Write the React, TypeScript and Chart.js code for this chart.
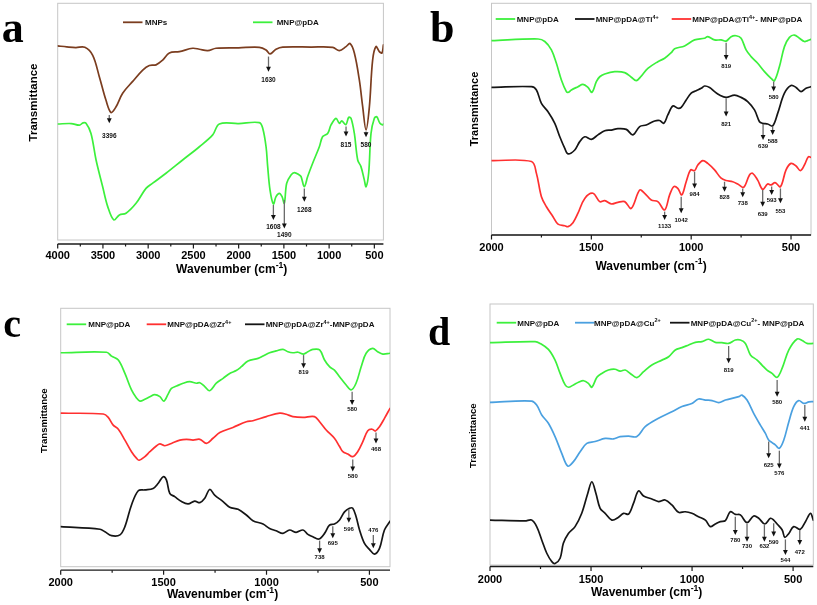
import React, { useEffect, useRef } from 'react';
import { Chart, registerables } from 'chart.js';

Chart.register(...registerables);

// ---------------- DATA ----------------
// [wavenumber (cm-1), transmittance (arbitrary units, 0-100)]
const A_MNPS: number[][] = [
  [4000, 82], [3900, 81.6], [3800, 81.3], [3700, 81.4], [3613, 78], [3540, 69], [3466, 59], [3411, 53.9],
  [3355, 56.3], [3282, 62], [3171, 67], [3060, 71.8], [2987, 73.7], [2913, 74], [2840, 76], [2766, 79],
  [2655, 79.6], [2508, 81], [2434, 80.6], [2342, 80], [2250, 81], [2000, 81.2], [1771, 81.4], [1697, 80.3],
  [1653, 78.6], [1587, 80.6], [1513, 81.5], [1200, 81.5], [960, 81.4], [887, 80], [813, 81.7], [769, 83],
  [721, 79], [666, 67.6], [629, 56.3], [592, 46.5], [555, 56.3], [519, 76], [482, 81.7], [445, 79.6],
  [416, 79], [400, 82.4],
];
const A_PDA: number[][] = [
  [4000, 49], [3850, 49.2], [3760, 48.5], [3720, 49.5], [3687, 49.3], [3632, 45], [3576, 33.8], [3503, 22.5],
  [3447, 14.1], [3380, 8.5], [3318, 10.6], [3245, 11.3], [3134, 15.5], [3024, 21.8], [2950, 24], [2803, 28.2],
  [2619, 33.8], [2434, 39.4], [2287, 44.4], [2213, 49], [2000, 49.2], [1771, 49.6], [1734, 47.2], [1697, 39.4],
  [1679, 31], [1653, 21.1], [1616, 15.2], [1587, 18.3], [1550, 19.7], [1520, 18.3], [1495, 15.5], [1469, 24],
  [1421, 27.5], [1384, 28.5], [1329, 27.5], [1310, 26.8], [1274, 22.5], [1237, 26.8], [1182, 32.4],
  [1108, 39.4], [1071, 43.7], [1016, 45], [979, 48.6], [924, 51.4], [887, 49.3], [860, 50.3], [815, 48.7],
  [784, 51.8], [758, 51.4], [721, 45], [684, 33.8], [648, 31], [611, 25.4], [592, 22.5], [563, 28.2],
  [537, 45], [500, 51.4], [474, 52.1], [438, 49.3], [408, 48.6], [400, 49],
];

const B_PDA: number[][] = [
  [2000, 83.9], [1767, 84.6], [1733, 83.5], [1700, 79.9], [1675, 74.1], [1650, 66.9], [1625, 61.9], [1615, 61.6],
  [1600, 62.6], [1567, 64], [1542, 65], [1517, 63.7], [1497, 61.6], [1475, 66.2], [1458, 68.3], [1433, 69.5],
  [1383, 70.5], [1333, 70.1], [1300, 68.1], [1275, 66.6], [1250, 68.6], [1217, 71.9], [1167, 74.8], [1133, 76.3],
  [1100, 78.7], [1083, 80.4], [1033, 81.6], [983, 84.2], [933, 84.9], [917, 85.6], [883, 84.2], [850, 84.2],
  [825, 83.7], [800, 85.6], [775, 86], [750, 84.9], [725, 79.9], [700, 77], [667, 74.1], [633, 70.5],
  [600, 67.6], [583, 66.6], [558, 72.7], [533, 81.3], [508, 85.3], [483, 86.3], [458, 84.9], [433, 83.5],
  [417, 83.9], [400, 84.5],
];
const B_TI: number[][] = [
  [2000, 63.7], [1800, 64], [1775, 62.6], [1750, 56.8], [1717, 53.2], [1683, 48.2], [1658, 42.4], [1633, 37.4],
  [1617, 35], [1583, 36.7], [1558, 40.3], [1533, 42.4], [1500, 41.3], [1467, 43.2], [1433, 45], [1400, 45.3],
  [1367, 45.9], [1325, 45.6], [1292, 43.2], [1258, 46.8], [1225, 47.5], [1183, 49.2], [1158, 49.4], [1137, 48.2],
  [1117, 51.8], [1092, 55.7], [1067, 54.7], [1050, 55.1], [1025, 58.3], [1000, 61.2], [975, 62.3], [950, 63.3],
  [933, 64.3], [908, 63.7], [883, 61.9], [858, 60.4], [825, 59.4], [783, 60.4], [750, 59.4], [717, 57.6],
  [683, 54], [658, 48.9], [642, 48.2], [617, 47.9], [592, 47.1], [567, 52.5], [533, 61.2], [500, 64.5],
  [475, 63.7], [450, 61.9], [425, 63.3], [400, 64],
];
const B_TI_PDA: number[][] = [
  [2000, 32.1], [1800, 31.7], [1775, 26.6], [1750, 16.5], [1725, 12.2], [1692, 7.9], [1667, 4.7], [1633, 4],
  [1617, 3.6], [1592, 5.3], [1567, 9.4], [1533, 15.8], [1492, 18], [1458, 14.4], [1433, 14.8], [1400, 13.4],
  [1367, 14.1], [1333, 14.4], [1300, 11.5], [1258, 19.4], [1233, 18], [1200, 15.1], [1167, 14.4], [1133, 10.8],
  [1108, 17.3], [1087, 20.9], [1067, 20.1], [1047, 17.3], [1025, 23], [1003, 28.1], [983, 27.8], [967, 30.2],
  [942, 32.1], [917, 30.9], [883, 28.1], [850, 24.5], [825, 23.5], [792, 23], [767, 22], [737, 20.6],
  [708, 25.9], [692, 26.6], [667, 23.7], [642, 19.7], [617, 22], [600, 21.6], [580, 22.6], [553, 20.9],
  [525, 28.1], [500, 30.9], [475, 29.8], [453, 27.8], [433, 30.2], [413, 33.8], [400, 33.5],
];

const C_PDA: number[][] = [
  [2000, 82.8], [1777, 83], [1753, 81.5], [1720, 80], [1688, 74.8], [1656, 68.4], [1631, 65.2], [1615, 64.1],
  [1591, 64.8], [1567, 65.8], [1543, 66.6], [1518, 65.8], [1499, 64.1], [1478, 66.8], [1462, 69], [1437, 69.9],
  [1405, 71], [1373, 71.6], [1340, 71], [1324, 71.2], [1300, 69.7], [1276, 68.1], [1244, 71], [1211, 72.9],
  [1179, 74.8], [1147, 75.9], [1122, 77.4], [1090, 79.6], [1041, 80.6], [1017, 81.5], [985, 82.8], [953, 83.5],
  [920, 84.1], [896, 83.2], [872, 82.8], [847, 83], [820, 82.3], [799, 83.2], [775, 84.1], [742, 83.9],
  [718, 80], [694, 77.4], [670, 76.1], [645, 73.5], [613, 70.3], [589, 68.4], [565, 71], [540, 77.4],
  [516, 82.6], [484, 84.5], [460, 83.2], [435, 82.3], [400, 82.6],
];
const C_ZR: number[][] = [
  [2000, 59.4], [1793, 59.1], [1769, 57.8], [1745, 54.8], [1720, 53.2], [1688, 49], [1656, 44.5], [1631, 41.9],
  [1619, 41.2], [1591, 42.6], [1567, 44.5], [1534, 46.8], [1518, 47.5], [1494, 46.8], [1462, 47.7], [1421, 49],
  [1389, 49.3], [1357, 49], [1324, 49.3], [1292, 47.7], [1260, 49.7], [1227, 51.9], [1163, 53.9], [1098, 56.1],
  [1066, 56.5], [1001, 58.1], [936, 59.4], [904, 59], [872, 58.1], [823, 57.8], [767, 58.1], [742, 56.1],
  [710, 52.9], [670, 49.7], [645, 46.5], [629, 44.5], [605, 43.6], [581, 42.6], [557, 44.5], [532, 48.4],
  [508, 52.6], [487, 53.2], [471, 52.5], [451, 54.2], [427, 57.4], [400, 61.3],
];
const C_ZR_PDA: number[][] = [
  [2000, 15.5], [1809, 14.5], [1785, 13.5], [1753, 12], [1712, 12.3], [1688, 15.5], [1656, 23.9], [1623, 29.4],
  [1591, 29.7], [1551, 30.3], [1526, 32.3], [1502, 34.8], [1486, 33.5], [1470, 28.4], [1446, 27.1], [1413, 25.2],
  [1381, 24.3], [1349, 25.4], [1324, 24.8], [1300, 26.5], [1276, 29.9], [1252, 27.7], [1211, 25.2], [1179, 23],
  [1138, 22.2], [1098, 20], [1066, 17.8], [1017, 16.5], [985, 14.8], [953, 13.9], [920, 12.9], [888, 14.2],
  [856, 13.3], [823, 14.2], [799, 12.5], [775, 11.6], [746, 10.7], [718, 12.9], [694, 16.1], [670, 16.5],
  [645, 18.1], [621, 21.2], [597, 22.6], [581, 22.6], [565, 19.4], [548, 14.2], [524, 9], [500, 6.7],
  [476, 4.9], [451, 7.1], [427, 14.2], [400, 17.6],
];

const D_PDA: number[][] = [
  [2000, 85.2], [1777, 85.6], [1752, 84.9], [1711, 82.6], [1678, 78.5], [1653, 73.4], [1628, 69], [1612, 68.1],
  [1587, 69], [1562, 70], [1537, 70.6], [1513, 69.6], [1496, 68.1], [1471, 71.9], [1447, 73.4], [1414, 74.7],
  [1381, 75], [1356, 74.3], [1331, 74.7], [1306, 73.4], [1273, 71.8], [1240, 74.1], [1199, 76.6], [1149, 78.5],
  [1116, 79.8], [1083, 82.4], [1050, 83.3], [1017, 84.3], [984, 85.3], [951, 85.6], [918, 86.5], [885, 85.3],
  [852, 85.2], [819, 84.9], [786, 86.2], [761, 86.2], [736, 84.9], [711, 80.5], [678, 78.5], [654, 76.6],
  [629, 74.7], [604, 73.4], [579, 71.9], [554, 75.4], [521, 82.4], [480, 86.6], [455, 86], [431, 84.9],
  [400, 84.9],
];
const D_CU: number[][] = [
  [2000, 62.3], [1794, 62.8], [1769, 61.3], [1744, 57.5], [1711, 54.3], [1678, 49.2], [1645, 42.8], [1615, 37.9],
  [1587, 39.6], [1554, 43.4], [1521, 46.6], [1480, 47.3], [1430, 48.5], [1389, 48.3], [1356, 49.2], [1314, 49.4],
  [1273, 49.2], [1232, 53], [1166, 56.2], [1100, 58.7], [1050, 60.7], [1001, 61.9], [968, 63.6], [934, 63.2],
  [901, 63], [868, 62.2], [835, 63.2], [769, 64.5], [753, 65.1], [728, 63.2], [695, 58.1], [662, 53.6],
  [637, 50.4], [621, 47.9], [604, 46.9], [588, 46], [568, 44.7], [546, 47.9], [521, 54.9], [497, 60.7],
  [472, 63], [447, 61.9], [422, 62.5], [400, 62.6],
];
const D_CU_PDA: number[][] = [
  [2000, 17.2], [1827, 16.9], [1794, 17.2], [1769, 14.7], [1744, 9.6], [1719, 4.5], [1694, 1.3], [1678, 0.6],
  [1653, 2.6], [1637, 8.3], [1612, 12.1], [1579, 14.7], [1546, 19.8], [1516, 27.5], [1496, 31.9], [1476, 27.5],
  [1455, 21.7], [1430, 19.8], [1397, 17.2], [1364, 18.3], [1339, 19.8], [1314, 19.5], [1290, 23.6], [1265, 28.4],
  [1240, 26.4], [1199, 25.3], [1166, 24.3], [1133, 24.9], [1100, 23], [1067, 20.2], [1034, 20.4], [1001, 19.8],
  [968, 18.5], [934, 17.2], [910, 14.7], [885, 15.7], [860, 16.6], [835, 17], [811, 20.4], [786, 19.4],
  [761, 19.2], [728, 16.2], [695, 18.8], [670, 17.9], [640, 15.7], [612, 17.9], [596, 17.2], [579, 15.7],
  [554, 13.4], [541, 10.6], [521, 12.1], [497, 14.7], [464, 13.7], [439, 16.6], [414, 19.8], [400, 17.2],
];

// peak marks: [arrow wavenumber, arrow start, arrow tip, label level, label]
const A_PEAKS: (number | string)[][] = [
  [3430, 52.8, 49.3, 43.7, '3396'], [1670, 77.5, 71.1, 67.6, '1630'], [1616, 14.8, 8.5, 5.6, '1608'],
  [1495, 16.9, 4.9, 2.1, '1490'], [1274, 21.8, 16.2, 12.4, '1268'], [813, 47.9, 43.7, 40.1, '815'],
  [592, 45.8, 43.4, 39.9, '580'],
];
const B_PEAKS: (number | string)[][] = [
  [825, 83, 75.5, 72.7, '819'], [587, 66.2, 61.9, 59.3, '580'], [825, 59, 51.1, 47.9, '821'],
  [640, 47.9, 41, 38.4, '639'], [592, 46.8, 43.2, 40.3, '588'], [1133, 10.1, 6.5, 3.6, '1133'],
  [1050, 16.5, 9.4, 6.5, '1042'], [983, 27.3, 20.1, 17.6, '984'], [833, 23, 18.7, 16.1, '828'],
  [742, 20.1, 16.3, 13.7, '738'], [642, 19.4, 12.2, 8.9, '639'], [597, 20.9, 17.3, 15.1, '593'],
  [553, 20.1, 13.7, 10.4, '553'],
];
const C_PEAKS: (number | string)[][] = [
  [820, 81.9, 76.8, 75.1, '819'], [584, 67.7, 62.6, 61, '580'], [468, 51.9, 47.7, 45.4, '468'],
  [581, 41.5, 36.8, 35.1, '580'], [742, 10.1, 5.2, 3.6, '738'], [678, 15.7, 11, 9, '695'],
  [600, 22.2, 17, 14.5, '596'], [481, 12.3, 7.1, 13.9, '476'],
];
const D_PEAKS: (number | string)[][] = [
  [819, 83.9, 77.3, 74.7, '819'], [579, 70.9, 64.5, 62.2, '580'], [442, 61.3, 54.9, 52.4, '441'],
  [621, 47.3, 40.9, 38.1, '625'], [568, 43.8, 37, 35.1, '576'], [786, 18.5, 11.5, 9.3, '780'],
  [728, 15.7, 8.9, 7, '730'], [642, 15.3, 8.9, 7, '632'], [596, 16, 10.9, 8.6, '590'],
  [538, 9.8, 3.8, 1.9, '544'], [467, 13.4, 7.7, 5, '472'],
];

const TICKS_A = [4000, 3500, 3000, 2500, 2000, 1500, 1000, 500];
const TICKS_B = [2000, 1500, 1000, 500];

const NAMES_A = ['MNPs', 'MNP@pDA'];
const NAMES_B = ['MNP@pDA', 'MNP@pDA@Ti^{4+}', 'MNP@pDA@Ti^{4+}- MNP@pDA'];
const NAMES_C = ['MNP@pDA', 'MNP@pDA@Zr^{4+}', 'MNP@pDA@Zr^{4+}-MNP@pDA'];
const NAMES_D = ['MNP@pDA', 'MNP@pDA@Cu^{2+}', 'MNP@pDA@Cu^{2+}- MNP@pDA'];

const X_TITLE = 'Wavenumber (cm^{-1})';
const Y_TITLE = 'Transmittance';

// ---------------- STYLE ----------------
const BROWN = '#7b3d1f';
const GREEN = '#3cf03c';
const RED = '#ff3030';
const BLACK = '#151515';
const BLUE = '#4aa0e0';
const SANS = '"Liberation Sans", Arial, sans-serif';

type Panel = {
  key: string; left: number; top: number; w: number; h: number;
  area: { l: number; r: number; t: number; b: number };
  xmin: number; xmax: number; ticks: number[]; tickPad: number; axisOffset: number;
  series: number[][][]; names: string[]; colors: string[]; peaks: (number | string)[][];
  legendX: number[]; legendTextX: number[]; legendY: number;
  letter: { x: number; y: number; size: number };
  yTitle: { x: number; y: number; size: number };
  xTitle: { x: number; y: number };
  peakFont: number;
};

const PANELS: Panel[] = [
  {
    key: 'a', left: 0, top: 0, w: 405, h: 300, area: { l: 57.7, r: 383.4, t: 3.3, b: 240 },
    xmin: 400, xmax: 4000, ticks: TICKS_A, tickPad: 9.4, axisOffset: 4,
    series: [A_MNPS, A_PDA], names: NAMES_A, colors: [BROWN, GREEN], peaks: A_PEAKS,
    legendX: [123, 253], legendTextX: [145, 276.7], legendY: 22.3,
    letter: { x: 1.7, y: 41.7, size: 44 }, yTitle: { x: 34, y: 102.5, size: 11.5 },
    xTitle: { x: 231.7, y: 273 }, peakFont: 6.5,
  },
  {
    key: 'b', left: 405, top: 0, w: 412, h: 300, area: { l: 86.5, r: 406, t: 3.3, b: 235 },
    xmin: 400, xmax: 2000, ticks: TICKS_B, tickPad: 6.4, axisOffset: 0,
    series: [B_PDA, B_TI, B_TI_PDA], names: NAMES_B, colors: [GREEN, BLACK, RED], peaks: B_PEAKS,
    legendX: [90.7, 170, 266.7], legendTextX: [111.7, 190.7, 287.3], legendY: 19,
    letter: { x: 25, y: 41.7, size: 44 }, yTitle: { x: 69.5, y: 109, size: 11 },
    xTitle: { x: 246, y: 269.5 }, peakFont: 6,
  },
  {
    key: 'c', left: 0, top: 300, w: 405, h: 305, area: { l: 60.7, r: 390, t: 8.3, b: 266.7 },
    xmin: 400, xmax: 2000, ticks: TICKS_B, tickPad: 9.2, axisOffset: 3.5,
    series: [C_PDA, C_ZR, C_ZR_PDA], names: NAMES_C, colors: [GREEN, RED, BLACK], peaks: C_PEAKS,
    legendX: [66.7, 146.7, 245], legendTextX: [88.3, 167.3, 265.7], legendY: 24.3,
    letter: { x: 3.3, y: 36.7, size: 40 }, yTitle: { x: 44.7, y: 120.7, size: 9.5 },
    xTitle: { x: 222.5, y: 298 }, peakFont: 6,
  },
  {
    key: 'd', left: 405, top: 300, w: 412, h: 305, area: { l: 85, r: 408.3, t: 4, b: 265 },
    xmin: 400, xmax: 2000, ticks: TICKS_B, tickPad: 8.4, axisOffset: 1.5,
    series: [D_PDA, D_CU, D_CU_PDA], names: NAMES_D, colors: [GREEN, BLUE, BLACK], peaks: D_PEAKS,
    legendX: [91.7, 170, 265], legendTextX: [112.3, 189, 285.7], legendY: 22.7,
    letter: { x: 23, y: 45, size: 40 }, yTitle: { x: 68, y: 135.7, size: 9.5 },
    xTitle: { x: 241.7, y: 296 }, peakFont: 6,
  },
];

// ---------------- helpers ----------------
function parseRich(s: string) {
  const parts: { t: string; sup: boolean }[] = [];
  const re = /\^\{([^}]*)\}/g;
  let last = 0;
  let m: RegExpExecArray | null;
  while ((m = re.exec(s))) {
    if (m.index > last) parts.push({ t: s.slice(last, m.index), sup: false });
    parts.push({ t: m[1], sup: true });
    last = re.lastIndex;
  }
  if (last < s.length) parts.push({ t: s.slice(last), sup: false });
  return parts;
}

function drawRich(ctx: CanvasRenderingContext2D, s: string, x: number, baseline: number, size: number, align: 'left' | 'center', supScale = 0.68) {
  const parts = parseRich(s);
  const font = (sz: number) => `bold ${sz}px ${SANS}`;
  let total = 0;
  for (const p of parts) {
    ctx.font = font(p.sup ? size * supScale : size);
    total += ctx.measureText(p.t).width;
  }
  let cx = align === 'center' ? x - total / 2 : x;
  ctx.textAlign = 'left';
  ctx.textBaseline = 'alphabetic';
  for (const p of parts) {
    ctx.font = font(p.sup ? size * supScale : size);
    ctx.fillText(p.t, cx, p.sup ? baseline - size * 0.42 : baseline);
    cx += ctx.measureText(p.t).width;
  }
}

function decorPlugin(cfg: Panel) {
  return {
    id: 'decor_' + cfg.key,
    beforeDatasetsDraw(chart: any) {
      const { ctx, chartArea: a } = chart;
      ctx.save();
      ctx.strokeStyle = '#c6c6c6';
      ctx.lineWidth = 1;
      ctx.strokeRect(a.left, a.top, a.right - a.left, a.bottom - a.top);
      ctx.restore();
    },
    afterDraw(chart: any) {
      const { ctx, chartArea: a } = chart;
      const xs = chart.scales.x;
      const ys = chart.scales.y;
      ctx.save();
      // axis line + ticks
      const y0 = a.bottom + cfg.axisOffset;
      ctx.strokeStyle = '#1a1a1a';
      ctx.lineWidth = 1.3;
      ctx.beginPath();
      ctx.moveTo(a.left, y0);
      ctx.lineTo(a.right, y0);
      ctx.stroke();
      ctx.lineWidth = 1.2;
      ctx.beginPath();
      cfg.ticks.forEach((v, i) => {
        const px = xs.getPixelForValue(v);
        ctx.moveTo(px, y0);
        ctx.lineTo(px, y0 + 4.5);
        if (i < cfg.ticks.length - 1) {
          const mx = xs.getPixelForValue((v + cfg.ticks[i + 1]) / 2);
          ctx.moveTo(mx, y0);
          ctx.lineTo(mx, y0 + 2.5);
        }
      });
      ctx.stroke();

      // peak arrows
      for (const pk of cfg.peaks) {
        const [wn, y1, y2, yl, label] = pk as [number, number, number, number, string];
        const px = xs.getPixelForValue(wn);
        const p1 = ys.getPixelForValue(y1);
        const p2 = ys.getPixelForValue(y2);
        const pl = ys.getPixelForValue(yl);
        const head = 5;
        ctx.strokeStyle = '#6a6a6a';
        ctx.lineWidth = 1.3;
        ctx.beginPath();
        ctx.moveTo(px, p1);
        ctx.lineTo(px, p2 - head + 0.5);
        ctx.stroke();
        ctx.fillStyle = '#111';
        ctx.beginPath();
        ctx.moveTo(px, p2);
        ctx.lineTo(px - 2.4, p2 - head);
        ctx.lineTo(px + 2.4, p2 - head);
        ctx.closePath();
        ctx.fill();
        ctx.font = `bold ${cfg.peakFont}px ${SANS}`;
        ctx.textAlign = 'center';
        ctx.textBaseline = 'middle';
        ctx.fillText(label, px, pl);
      }

      // legend
      cfg.names.forEach((name, i) => {
        ctx.strokeStyle = cfg.colors[i];
        ctx.lineWidth = 1.8;
        ctx.beginPath();
        ctx.moveTo(cfg.legendX[i], cfg.legendY);
        ctx.lineTo(cfg.legendX[i] + 19.5, cfg.legendY);
        ctx.stroke();
        ctx.fillStyle = '#111';
        drawRich(ctx, name, cfg.legendTextX[i], cfg.legendY + 2.9, 8, 'left');
      });

      // panel letter
      ctx.fillStyle = '#000';
      ctx.font = `bold ${cfg.letter.size}px "Liberation Serif", "Times New Roman", serif`;
      ctx.textAlign = 'left';
      ctx.textBaseline = 'alphabetic';
      ctx.fillText(cfg.key, cfg.letter.x, cfg.letter.y);

      // y title
      ctx.save();
      ctx.translate(cfg.yTitle.x, cfg.yTitle.y);
      ctx.rotate(-Math.PI / 2);
      ctx.font = `bold ${cfg.yTitle.size}px ${SANS}`;
      ctx.textAlign = 'center';
      ctx.textBaseline = 'middle';
      ctx.fillText(Y_TITLE, 0, 0);
      ctx.restore();

      // x title
      ctx.fillStyle = '#000';
      drawRich(ctx, X_TITLE, cfg.xTitle.x, cfg.xTitle.y, 12, 'center', 0.72);
      ctx.restore();
    },
  };
}

function buildConfig(cfg: Panel): any {
  return {
    type: 'line',
    data: {
      datasets: cfg.series.map((s, i) => ({
        label: cfg.names[i],
        data: s.map(([x, y]) => ({ x, y })),
        borderColor: cfg.colors[i],
        backgroundColor: cfg.colors[i],
        borderWidth: 1.7,
        pointRadius: 0,
        fill: false,
        tension: 0.35,
        borderJoinStyle: 'round',
        borderCapStyle: 'round',
      })),
    },
    options: {
      animation: false,
      responsive: false,
      devicePixelRatio: 1,
      events: [],
      layout: { padding: { left: cfg.area.l, top: cfg.area.t, right: cfg.w - cfg.area.r, bottom: 0 } },
      plugins: { legend: { display: false }, tooltip: { enabled: false }, title: { display: false } },
      scales: {
        x: {
          type: 'linear',
          reverse: true,
          min: cfg.xmin,
          max: cfg.xmax,
          grid: { display: false, drawTicks: false },
          border: { display: false },
          title: { display: false },
          afterBuildTicks: (s: any) => {
            s.ticks = cfg.ticks.map((v) => ({ value: v }));
          },
          afterFit: (s: any) => {
            s.height = cfg.h - cfg.area.b;
            s.paddingLeft = 0;
            s.paddingRight = 0;
          },
          ticks: {
            autoSkip: false,
            maxRotation: 0,
            minRotation: 0,
            padding: cfg.tickPad,
            color: '#000',
            font: { family: SANS, size: 11, weight: 'bold' },
            callback: (v: any) => String(v),
          },
        },
        y: { display: false, min: 0, max: 100 },
      },
    },
    plugins: [decorPlugin(cfg)],
  };
}

function PanelChart({ cfg }: { cfg: Panel }) {
  const ref = useRef<HTMLCanvasElement>(null);
  useEffect(() => {
    const chart = new Chart(ref.current as HTMLCanvasElement, buildConfig(cfg));
    return () => chart.destroy();
  }, [cfg]);
  return (
    <canvas
      ref={ref}
      width={cfg.w}
      height={cfg.h}
      style={{ position: 'absolute', left: cfg.left, top: cfg.top, width: cfg.w, height: cfg.h }}
    />
  );
}

export default function App() {
  return (
    <div style={{ position: 'absolute', left: 0, top: 0, width: 817, height: 605, background: '#fff', overflow: 'hidden' }}>
      {PANELS.map((p) => (
        <PanelChart key={p.key} cfg={p} />
      ))}
    </div>
  );
}
